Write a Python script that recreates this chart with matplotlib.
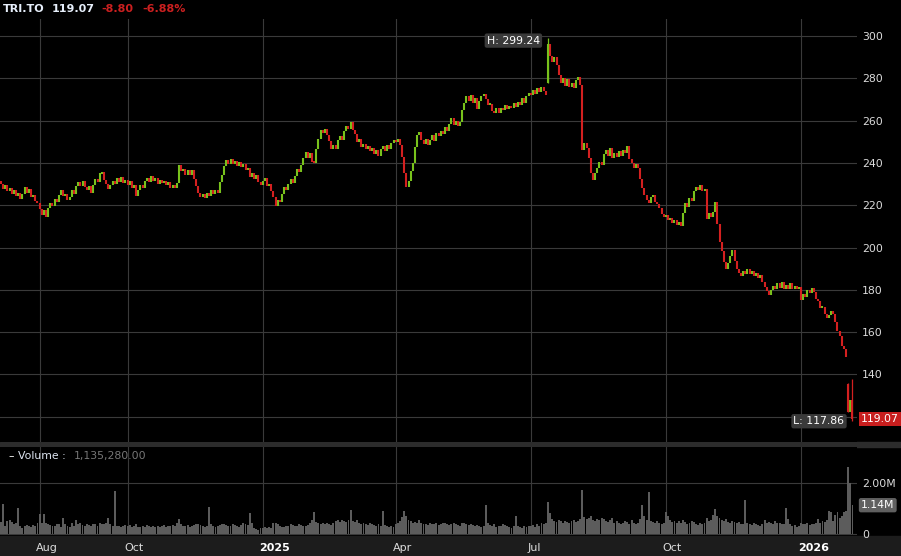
import numpy as np
import pandas as pd
import matplotlib
matplotlib.use('Agg')
import matplotlib.pyplot as plt
import matplotlib.transforms as mtransforms
from matplotlib.patches import Rectangle

# daily closes, TRI.TO, Jul 8 2024 .. Feb 5 2026
close = [
    230, 227.5, 229.5, 226.5, 228, 225.5, 227, 224.5, 226, 223,
    225.5, 228.5, 226, 227.5, 224, 225, 222, 221,
    # Aug - Sep 2024
    218, 215.5, 217.5, 214.5, 218.5, 221, 219.5, 223, 221.5, 225,
    227, 224.5, 225.5, 222.5, 224, 227, 225.5, 229, 231, 229,
    231.5, 228.5, 227, 229, 226, 229.5, 232.5, 231, 235, 235.7,
    232, 230, 227.5, 229.5, 231.5, 230, 233, 231, 233.5, 230.5,
    232,
    # Oct - Dec 2024
    229.5, 231.5, 228, 229.5, 224.5, 227, 229.5, 228, 231.5, 233,
    231, 234, 231.5, 233, 230, 232, 230.5, 231.5, 229.5, 231,
    228, 229.5, 228, 230.5, 239, 236, 237, 234.5, 236.5, 234.5,
    236.5, 232.5, 229, 226, 224, 225.5, 223.5, 226, 224.5, 227,
    225.5, 227, 226, 231, 234.5, 238.5, 241.5, 239.5, 242, 239.5,
    241, 238.5, 240.5, 238, 239.5, 236.5, 237.5, 233.5, 235, 232.5,
    234.5, 231, 229.5,
    # Jan - Mar 2025
    231.5, 233, 229, 230, 226.5, 224, 219.5, 222.5, 221.5, 225.5,
    228.5, 227, 230, 232.5, 230.5, 234, 237, 235.5, 239, 242.5,
    245, 242.5, 244.5, 240.5, 240, 246.5, 251.5, 255.5, 254, 256,
    253, 250.5, 246.5, 248.5, 246.5, 251, 252.5, 251, 255, 257.5,
    256, 259.5, 255.5, 253.5, 250, 251.5, 247.5, 249, 246.5, 248,
    245.5, 247, 244, 246, 243.5, 246.5, 248, 245.5, 248.5, 246.5,
    249.5, 251,
    # Apr - Jun 2025
    250, 251.5, 248.5, 243, 235, 228.5, 231.5, 236, 240, 247.5,
    253, 254.5, 251, 249, 251.5, 248.5, 251, 253, 250.5, 254,
    252.5, 255, 253.5, 257, 255, 258.5, 261, 258, 260, 257.5,
    259.5, 265, 268.5, 271.5, 269.5, 272, 268.5, 270.5, 265.5, 269.5,
    271.5, 272.5, 270, 267.5, 268, 264.5, 263.5, 266, 263.5, 266,
    265, 267.5, 265.5, 267, 266, 268.5, 266.5, 269, 267.5, 270.5,
    268.5, 271.5, 273,
    # Jul - Sep 2025
    272, 274.5, 272.5, 275.5, 273.5, 276, 274, 272, 296, 290.5,
    287.5, 290, 286.5, 281.5, 278, 280, 276.5, 279.5, 276, 278,
    275.5, 279, 280.5, 277, 246, 249.5, 247, 242.5, 235, 232,
    235, 237.5, 240.5, 239, 244, 246, 243.5, 247, 242.5, 244.5,
    243, 245.5, 243.5, 246, 244.5, 248, 242, 240, 237.5, 239.5,
    237.5, 232.5, 228, 225, 222.5, 221, 224, 225, 221.5, 220.5,
    218.5, 216, 214.5,
    # Oct - Dec 2025
    215.5, 213, 214, 211.5, 213, 210.5, 212, 210, 216.5, 221,
    219, 223.5, 222, 226.5, 228.5, 227, 229.5, 226.5, 227.5, 213.5,
    216.5, 214.5, 217, 221.5, 211, 202.5, 198.5, 193, 190, 192.5,
    196, 199, 193.5, 190, 188, 186.5, 189, 187.5, 190, 187.5,
    189, 186.5, 188, 185.5, 187, 183.5, 181.5, 179.5, 177.5, 180,
    182, 180.5, 183, 181, 183.5, 180.5, 182.5, 180.5, 183, 180.5,
    182, 180.5, 181.5,
    # Jan - Feb 2026
    175, 178, 176.5, 180, 178.5, 181, 179, 175.5, 174.5, 171.5,
    172, 168.5, 166.5, 168, 170, 168.5, 165, 160.5, 158, 153.5,
    152, 148.2, 122, 127.87, 119.07,
]

# volume in thousands of shares
volume_k = [
    480, 1180, 330, 520, 560, 470, 380, 420, 1020, 300,
    250, 330, 360, 300, 280, 340, 310, 420,
    790, 450, 790, 420, 380, 350, 300, 330, 400, 380,
    290, 620, 380, 300, 270, 420, 330, 550, 380, 420,
    350, 300, 400, 370, 320, 410, 380, 330, 450, 390,
    400, 420, 620, 380, 320, 1710, 330, 300, 280, 310,
    350,
    300, 340, 280, 300, 380, 290, 260, 310, 280, 350,
    300, 270, 330, 290, 310, 260, 300, 340, 280, 320,
    300, 360, 310, 420, 590, 400, 330, 300, 350, 290,
    330, 360, 410, 380, 340, 300, 280, 320, 1060, 380,
    300, 270, 330, 360, 400, 380, 350, 330, 300, 380,
    340, 310, 290, 350, 420, 400, 360, 840, 420, 250,
    200, 150, 230,
    230, 260, 220, 270, 250, 420, 450, 380, 300, 260,
    280, 330, 300, 380, 350, 320, 300, 380, 340, 320,
    300, 350, 420, 560, 870, 480, 420, 380, 450, 400,
    430, 380, 350, 420, 520, 560, 480, 540, 500, 470,
    560, 950, 520, 480, 560, 440, 400, 420, 380, 360,
    420, 400, 350, 320, 380, 300, 910, 360, 320, 280,
    300, 260,
    400, 450, 520, 670, 910, 700, 560, 520, 450, 480,
    420, 560, 450, 380, 410, 360, 440, 400, 380, 420,
    350, 390, 450, 420, 380, 350, 400, 430, 380, 350,
    300, 420, 450, 380, 350, 400, 340, 300, 360, 330,
    280, 300, 1140, 420, 350, 300, 380, 260, 330, 300,
    400, 350, 300, 280, 230, 320, 700, 300, 280, 250,
    300, 270, 320,
    300, 350, 280, 400, 330, 450, 380, 420, 1270, 830,
    600, 520, 480, 550, 500, 450, 520, 480, 420, 500,
    560, 470, 520, 600, 1740, 670, 600, 620, 710, 560,
    520, 580, 550, 650, 600, 520, 480, 560, 620, 450,
    500, 420, 380, 450, 520, 480, 400, 550, 420, 380,
    450, 600, 1140, 700, 550, 1670, 520, 480, 450, 500,
    420, 380, 450,
    880, 700, 550, 480, 520, 450, 500, 420, 550, 480,
    400, 450, 520, 480, 380, 350, 420, 400, 450, 620,
    500, 560, 750, 980, 700, 620, 560, 520, 600, 480,
    450, 520, 480, 420, 460, 400, 380, 1340, 450, 380,
    350, 420, 380, 350, 300, 380, 550, 420, 480, 450,
    400, 500, 420, 450, 380, 400, 1020, 600, 380, 300,
    350, 280, 320,
    450, 400, 380, 420, 350, 400, 380, 450, 600, 420,
    500, 480, 550, 900, 880, 500, 750, 880, 620, 700,
    880, 900, 2650, 2020, 1135.28,
]

first_open = 231.5
gap_open = {255: 278.0, 395: 135.5}          # days that did not open at prior close
day_high = {255: 299.24, 395: 136.0, 397: 138.0}
day_low = {397: 117.86}

tsx_holidays = ['2024-08-05', '2024-09-02', '2024-10-14', '2024-12-25', '2024-12-26',
                '2025-01-01', '2025-02-17', '2025-04-18', '2025-05-19', '2025-07-01',
                '2025-08-04', '2025-09-01', '2025-10-13', '2025-12-25', '2025-12-26',
                '2026-01-01']
month_marks = [('2024-08-01', 'Aug'), ('2024-10-01', 'Oct'), ('2025-01-01', '2025'),
               ('2025-04-01', 'Apr'), ('2025-07-01', 'Jul'), ('2025-10-01', 'Oct'),
               ('2026-01-01', '2026')]

UP = '#78c21c'
DOWN = '#d42020'
GRID = '#3a3a3a'
TXT = '#dcdcdc'

n = len(close)
dates = pd.bdate_range('2024-07-08', periods=n, freq='C', holidays=tsx_holidays)
xs = np.arange(n)
c = np.array(close, dtype=float)
o = np.r_[first_open, c[:-1]]
for i, v in gap_open.items():
    o[i] = v
lo = np.minimum(o, c)
hi = np.maximum(o, c)
small = (hi - lo) < 1.0
mid = (hi + lo) / 2
lo[small] = mid[small] - 0.5
hi[small] = mid[small] + 0.5
up = c >= o

W, H = 901, 556
fig = plt.figure(figsize=(W / 100, H / 100), dpi=100, facecolor='black')


def fx(px):
    return px / W


def fy(py):
    return 1 - py / H


ax = fig.add_axes([0, fy(442), fx(857), (442 - 19) / H])
axv = fig.add_axes([0, fy(535), fx(857), (535 - 447) / H])

xmin, xmax = -0.47, 399.1
tick_pos = [int(dates.searchsorted(pd.Timestamp(d))) for d, _ in month_marks]

for a in (ax, axv):
    a.set_facecolor('black')
    for s in a.spines.values():
        s.set_visible(False)
    a.set_xlim(xmin, xmax)
    a.set_xticks(tick_pos)
    a.grid(True, color=GRID, lw=0.8)
    a.set_axisbelow(True)
    a.tick_params(axis='x', length=0, labelbottom=False)
    a.tick_params(axis='y', left=False, labelleft=False, right=True, labelright=True,
                  length=0, pad=3.5, colors=TXT, labelsize=7.8)

# price candles
ax.vlines(xs[up], lo[up], hi[up], color=UP, lw=1.5)
ax.vlines(xs[~up], lo[~up], hi[~up], color=DOWN, lw=1.5)
for i in set(day_high) | set(day_low):
    col = UP if up[i] else DOWN
    ax.vlines(i, day_low.get(i, lo[i]), day_high.get(i, hi[i]), color=col, lw=0.9)

ax.set_ylim(108.04, 308.04)
ax.set_yticks(range(120, 301, 20))
ax.set_yticklabels([''] + [str(v) for v in range(140, 301, 20)])

ax.annotate('H: 299.24', xy=(255, 299.24), xytext=(-8, -3), textcoords='offset pixels',
            ha='right', va='center', color='white', fontsize=7.8,
            bbox=dict(boxstyle='round,pad=0.2', fc='#3a3a3a', ec='none'))
ax.annotate('L: 117.86', xy=(397, 117.86), xytext=(-8, 0), textcoords='offset pixels',
            ha='right', va='center', color='white', fontsize=7.8,
            bbox=dict(boxstyle='round,pad=0.2', fc='#3a3a3a', ec='none'))
trp = mtransforms.blended_transform_factory(ax.transAxes, ax.transData)
ax.text(1 + 4 / 857, close[-1], f'{close[-1]:.2f}', transform=trp, ha='left', va='center',
        color='white', fontsize=7.8,
        bbox=dict(boxstyle='square,pad=0.2', fc='#c81e1e', ec='none'))

# volume
vol = np.array(volume_k) * 1000
axv.bar(xs, vol, width=0.9, color='#5c5c5c', linewidth=0)
axv.set_ylim(-0.04e6, 3.43e6)
axv.set_yticks([0, 2e6])
axv.set_yticklabels(['0', '2.00M'])
trv = mtransforms.blended_transform_factory(axv.transAxes, axv.transData)
axv.text(1 + 4 / 857, vol[-1], f'{vol[-1] / 1e6:.2f}M', transform=trv, ha='left', va='center',
         color='white', fontsize=7.8,
         bbox=dict(boxstyle='round,pad=0.2', fc='#606060', ec='none'))

# bands
fig.patches.append(Rectangle((0, fy(447)), 1, 5 / H, transform=fig.transFigure,
                             color='#2c2c2c', zorder=-1))
fig.patches.append(Rectangle((0, 0), 1, fy(536), transform=fig.transFigure,
                             color='#1c1c1c', zorder=-1))

# month labels in bottom band
trx = mtransforms.blended_transform_factory(axv.transData, fig.transFigure)
for p, (_, lab) in zip(tick_pos, month_marks):
    bold = lab.isdigit()
    fig.text(p - 1.5, fy(548), lab, transform=trx, ha='left', va='center',
             color='white' if bold else TXT, fontsize=8,
             fontweight='bold' if bold else 'normal', zorder=5)

# header
fig.text(fx(3), fy(9), 'TRI.TO', color='#e6eefa', fontsize=8, fontweight='bold', va='center')
fig.text(fx(52), fy(9), f'{close[-1]:.2f}', color='#e6eefa', fontsize=8, fontweight='bold',
         va='center')
fig.text(fx(101), fy(9), '-8.80', color='#cc2020', fontsize=8, fontweight='bold', va='center')
fig.text(fx(142), fy(9), '-6.88%', color='#cc2020', fontsize=8, fontweight='bold', va='center')

fig.text(fx(8), fy(456), '\u2013', color='white', fontsize=7.8, va='center')
fig.text(fx(18), fy(456), 'Volume :', color='#dde4f0', fontsize=7.8, va='center')
fig.text(fx(74), fy(456), f'{volume_k[-1] * 1000:,.2f}', color='#777777', fontsize=7.8,
         va='center')

fig.savefig('out.png', dpi=100, facecolor='black')
